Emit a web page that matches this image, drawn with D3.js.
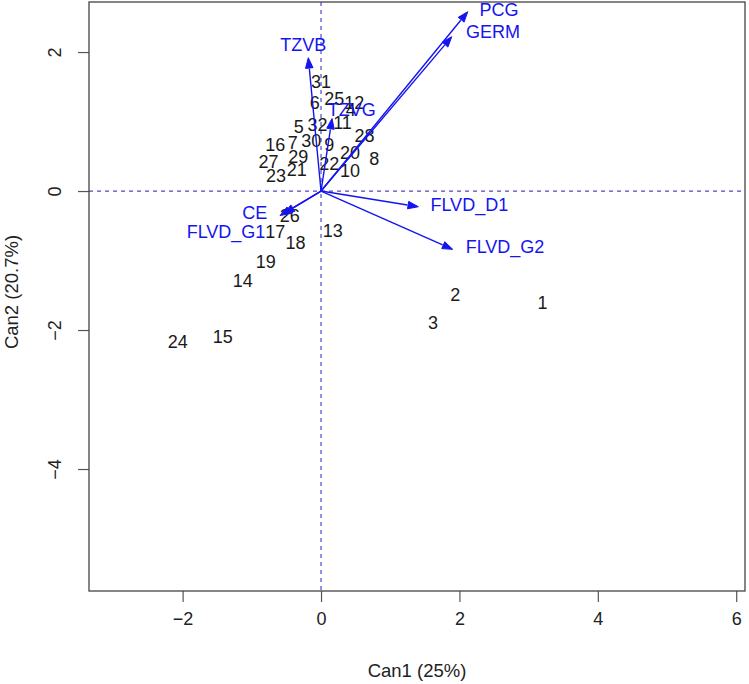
<!DOCTYPE html>
<html>
<head>
<meta charset="utf-8">
<script src="https://cdn.jsdelivr.net/npm/d3@7"></script>
<style>
  html, body { margin: 0; padding: 0; background: #fff; }
  svg { display: block; font-family: "Liberation Sans", Arial, Helvetica, sans-serif; }
</style>
</head>
<body>
<svg id="chart" width="749" height="684"></svg>
<script>
// ---- data ----
const obsLabels = ["1","2","3","4","5","6","7","8","9","10","11","12","13","14","15","16",
                   "17","18","19","20","21","22","23","24","25","26","27","28","29","30","31","32"];
const can1 = [3.20, 1.94, 1.62, 0.43, -0.32, -0.09, -0.41, 0.77, 0.12, 0.42, 0.31, 0.48, 0.17, -1.13, -1.42, -0.66,
              -0.66, -0.37, -0.80, 0.42, -0.35, 0.12, -0.65, -2.07, 0.19, -0.45, -0.76, 0.63, -0.33, -0.14, 0.00, -0.05];
const can2 = [-1.61, -1.49, -1.90, 1.17, 0.92, 1.27, 0.69, 0.47, 0.67, 0.29, 0.99, 1.27, -0.57, -1.29, -2.10, 0.66,
              -0.58, -0.75, -1.02, 0.55, 0.30, 0.40, 0.22, -2.17, 1.33, -0.35, 0.42, 0.79, 0.50, 0.73, 1.58, 0.96];

const varNames = ["TZVB", "TZVG", "PCG", "GERM", "CE", "FLVD_G1", "FLVD_D1", "FLVD_G2"];
const varCan1 = [-0.184, 0.159, 2.120, 1.889, -0.592, -0.535, 1.406, 1.903];
const varCan2 = [1.918, 1.043, 2.580, 2.220, -0.353, -0.324, -0.226, -0.839];
const varLabelCan1 = [-0.256, 0.444, 2.572, 2.486, -0.958, -1.373, 2.143, 2.659];
const varLabelCan2 = [2.100, 1.166, 2.604, 2.288, -0.317, -0.590, -0.201, -0.806];

const xTicks = [-2, 0, 2, 4, 6];
const yTicks = [-4, -2, 0, 2];
const xTitle = "Can1 (25%)";
const yTitle = "Can2 (20.7%)";

// ---- layout ----
const L = 89, R = 745, T = 2, B = 591;
const svg = d3.select("#chart");
const x = d3.scaleLinear().domain([-3.353, 6.127]).range([L, R]);
const y = d3.scaleLinear().domain([-5.755, 2.72]).range([B, T]);
const fs = 18;
const blue = "#1414f0";
const fmt = d => d < 0 ? "\u2212" + Math.abs(d) : String(d);

// reference lines
svg.append("line").attr("x1", x(0)).attr("x2", x(0)).attr("y1", T).attr("y2", B)
  .attr("stroke", "#4a4acc").attr("stroke-width", 1.2).attr("stroke-dasharray", "4,4");
svg.append("line").attr("x1", L).attr("x2", R).attr("y1", y(0)).attr("y2", y(0))
  .attr("stroke", "#4a4acc").attr("stroke-width", 1.2).attr("stroke-dasharray", "4,4");

// axes
const xAxis = d3.axisBottom(x).tickValues(xTicks).tickSize(11).tickPadding(10).tickFormat(fmt);
const gx = svg.append("g").attr("transform", `translate(0,${B})`).call(xAxis);
gx.select(".domain").remove();
gx.selectAll("line").attr("stroke", "#555").attr("stroke-width", 1.2);
gx.selectAll("text").attr("font-size", fs).attr("fill", "#222")
  .attr("font-family", "Liberation Sans, Arial, sans-serif");

const yAxis = d3.axisLeft(y).tickValues(yTicks).tickSize(11).tickFormat(fmt);
const gy = svg.append("g").attr("transform", `translate(${L},0)`).call(yAxis);
gy.select(".domain").remove();
gy.selectAll("line").attr("stroke", "#555").attr("stroke-width", 1.2);
gy.selectAll("text").remove();
gy.selectAll(".tick").append("text")
  .attr("transform", "translate(-34,0) rotate(-90)")
  .attr("text-anchor", "middle").attr("dy", "0.35em")
  .attr("font-size", fs).attr("fill", "#222")
  .attr("font-family", "Liberation Sans, Arial, sans-serif")
  .text(d => fmt(d));

// box
svg.append("rect").attr("x", L).attr("y", T).attr("width", R - L).attr("height", B - T)
  .attr("fill", "none").attr("stroke", "#444").attr("stroke-width", 1.3);

// titles
svg.append("text").attr("x", (L + R) / 2).attr("y", 671).attr("dy", "0.35em")
  .attr("text-anchor", "middle").attr("font-size", fs + 0.5).attr("fill", "#222").text(xTitle);
svg.append("text").attr("transform", "translate(12,292) rotate(-90)").attr("dy", "0.35em")
  .attr("text-anchor", "middle").attr("font-size", fs + 0.5).attr("fill", "#222").text(yTitle);

// observation labels
const obs = obsLabels.map((lab, i) => ({ lab, c1: can1[i], c2: can2[i] }));
svg.append("g").selectAll("text").data(obs).join("text")
  .attr("x", d => x(d.c1)).attr("y", d => y(d.c2)).attr("dy", "0.35em")
  .attr("text-anchor", "middle").attr("font-size", fs).attr("fill", "#1a1a1a")
  .text(d => d.lab);

// vectors
const vars = varNames.map((n, i) => ({ n, c1: varCan1[i], c2: varCan2[i], l1: varLabelCan1[i], l2: varLabelCan2[i] }));
const gv = svg.append("g");
const headLen = 11, headAng = Math.PI / 9;
vars.forEach(v => {
  const x0 = x(0), y0 = y(0), x1 = x(v.c1), y1 = y(v.c2);
  const a = Math.atan2(y1 - y0, x1 - x0);
  const bx = x1 - headLen * Math.cos(a), by = y1 - headLen * Math.sin(a);
  gv.append("line").attr("x1", x0).attr("y1", y0).attr("x2", bx).attr("y2", by)
    .attr("stroke", blue).attr("stroke-width", 1.4);
  const p1 = [x1 - headLen * Math.cos(a - headAng), y1 - headLen * Math.sin(a - headAng)];
  const p2 = [x1 - headLen * Math.cos(a + headAng), y1 - headLen * Math.sin(a + headAng)];
  gv.append("path").attr("d", `M${x1},${y1}L${p1[0]},${p1[1]}L${p2[0]},${p2[1]}Z`)
    .attr("fill", blue).attr("stroke", blue).attr("stroke-width", 1);
});
svg.append("g").selectAll("text").data(vars).join("text")
  .attr("x", d => x(d.l1)).attr("y", d => y(d.l2)).attr("dy", "0.35em")
  .attr("text-anchor", "middle").attr("font-size", fs).attr("fill", blue)
  .text(d => d.n);
</script>
</body>
</html>
